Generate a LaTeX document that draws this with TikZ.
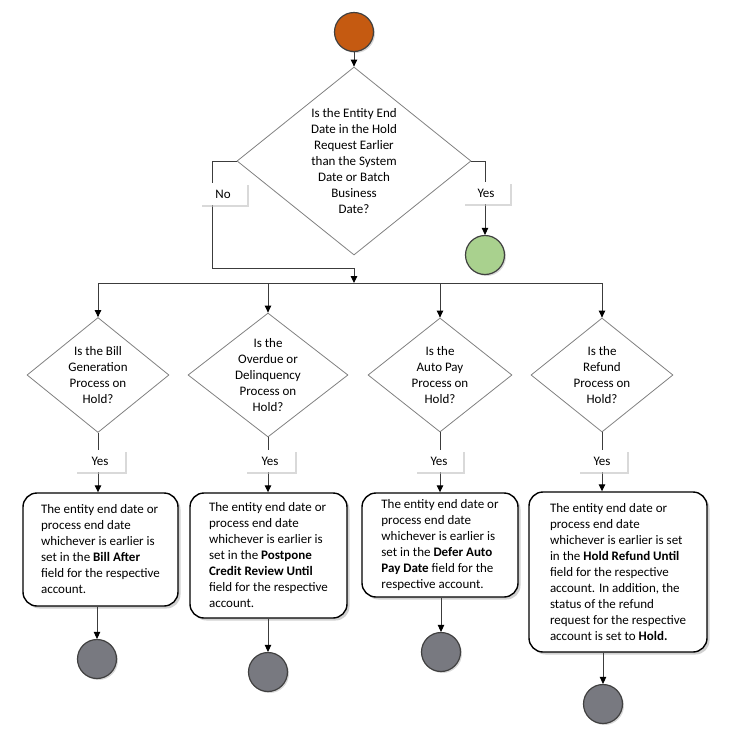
\documentclass[tikz,border=0pt]{standalone}
\usepackage{fontspec}
\setmainfont{Carlito}
\usetikzlibrary{shapes.geometric,arrows.meta,shadows}
\definecolor{startc}{RGB}{197,90,17}
\definecolor{okc}{RGB}{169,209,142}
\definecolor{endc}{RGB}{120,121,128}
\definecolor{linec}{RGB}{60,60,60}
\begin{document}
\begin{tikzpicture}[x=1pt, y=-1pt,
  every node/.style={font=\fontsize{13}{16}\selectfont},
  dec/.style={diamond, draw=black!50, line width=0.8pt, inner sep=0pt, align=center},
  act/.style={rectangle, rounded corners=14pt, draw=black, line width=1.4pt, fill=white, align=left, inner sep=0pt,
    drop shadow={shadow xshift=2.5pt, shadow yshift=-2.5pt, fill=black!30, opacity=0.6}},
  lbl/.style={rectangle, fill=white, minimum height=22pt, inner sep=0pt,
    drop shadow={shadow xshift=2pt, shadow yshift=-2pt, fill=black!25, opacity=0.6}},
  dot/.style={circle, minimum size=39pt, inner sep=0pt, draw=black!75, line width=1.2pt,
    drop shadow={shadow xshift=1.5pt, shadow yshift=-1.5pt, fill=black!30, opacity=0.5}},
  ln/.style={draw=linec, line width=0.9pt},
  arr/.style={draw=linec, line width=0.9pt, -{Triangle[length=7pt,width=6.5pt,black]}}]
\useasboundingbox (0,0) rectangle (730,745);
\node[dot, fill=startc] (st0) at (354,32){};
\node[dec, minimum width=234pt, minimum height=188pt, aspect=1.245] (dc0) at (354,161){Is the Entity End\\Date in the Hold\\Request Earlier\\than the System\\Date or Batch\\Business\\Date?};
\draw[arr](st0) -- (dc0.north);
\node[dot, fill=okc] (en0) at (485,255){};
\coordinate (cn0) at (212,268);
\coordinate (bus) at (354,283);
\draw[arr](dc0.west) -| (cn0) -| (bus);
\draw[arr](dc0.east) -| (en0.north);
\node[lbl, minimum width=47pt] (lb0) at (223,194){No};
\node[lbl, minimum width=47pt] (lb1) at (486,193){Yes};
\node[dec, minimum width=142pt, minimum height=115pt, aspect=1.23] (dc1) at (98,375){Is the Bill\\Generation\\Process on\\Hold?};
\node[dec, minimum width=160pt, minimum height=124pt, aspect=1.29] (dc2) at (268,375){Is the\\Overdue or\\Delinquency\\Process on\\Hold?};
\node[dec, minimum width=144pt, minimum height=114pt, aspect=1.26] (dc3) at (440,375){Is the\\Auto Pay\\Process on\\Hold?};
\node[dec, minimum width=142pt, minimum height=114pt, aspect=1.25] (dc4) at (602,375){Is the\\Refund\\Process on\\Hold?};
\draw[ln](dc1.north |- bus) -- (dc4.north |- bus);
\draw[arr](dc1.north |- bus) -- (dc1.north);
\draw[arr](dc2.north |- bus) -- (dc2.north);
\draw[arr](dc3.north |- bus) -- (dc3.north);
\draw[arr](dc4.north |- bus) -- (dc4.north);
\node[act, minimum width=155pt, minimum height=113pt] (bx1) at (100.5,549.5){The entity end date or\\process end date\\whichever is earlier is\\set in the \textbf{Bill After}\\field for the respective\\account.};
\node[act, minimum width=157pt, minimum height=125pt] (bx2) at (268.5,555.5){The entity end date or\\process end date\\whichever is earlier is\\set in the \textbf{Postpone}\\\textbf{Credit Review Until}\\field for the respective\\account.};
\node[act, minimum width=156pt, minimum height=104pt] (bx3) at (440,545){The entity end date or\\process end date\\whichever is earlier is\\set in the \textbf{Defer Auto}\\\textbf{Pay Date} field for the\\respective account.};
\node[act, minimum width=178pt, minimum height=160pt] (bx4) at (618,572){The entity end date or\\process end date\\whichever is earlier is set\\in the \textbf{Hold Refund Until}\\field for the respective\\account. In addition, the\\status of the refund\\request for the respective\\account is set to \textbf{Hold.}};
\draw[arr](dc1.south) -- (dc1.south |- bx1.north);
\draw[arr](dc2.south) -- (dc2.south |- bx2.north);
\draw[arr](dc3.south) -- (dc3.south |- bx3.north);
\draw[arr](dc4.south) -- (dc4.south |- bx4.north);
\node[lbl, minimum width=50pt] (lb2) at (100,461){Yes};
\node[lbl, minimum width=50pt] (lb3) at (270,461){Yes};
\node[lbl, minimum width=48pt] (lb4) at (439,461){Yes};
\node[lbl, minimum width=49pt] (lb5) at (602,461){Yes};
\node[dot, fill=endc] (en1) at (97,659){};
\node[dot, fill=endc] (en2) at (268,672){};
\node[dot, fill=endc] (en3) at (441,652){};
\node[dot, fill=endc] (en4) at (603,704){};
\draw[arr](en1 |- bx1.south) -- (en1.north);
\draw[arr](en2 |- bx2.south) -- (en2.north);
\draw[arr](en3 |- bx3.south) -- (en3.north);
\draw[arr](en4 |- bx4.south) -- (en4.north);
\end{tikzpicture}
\end{document}
